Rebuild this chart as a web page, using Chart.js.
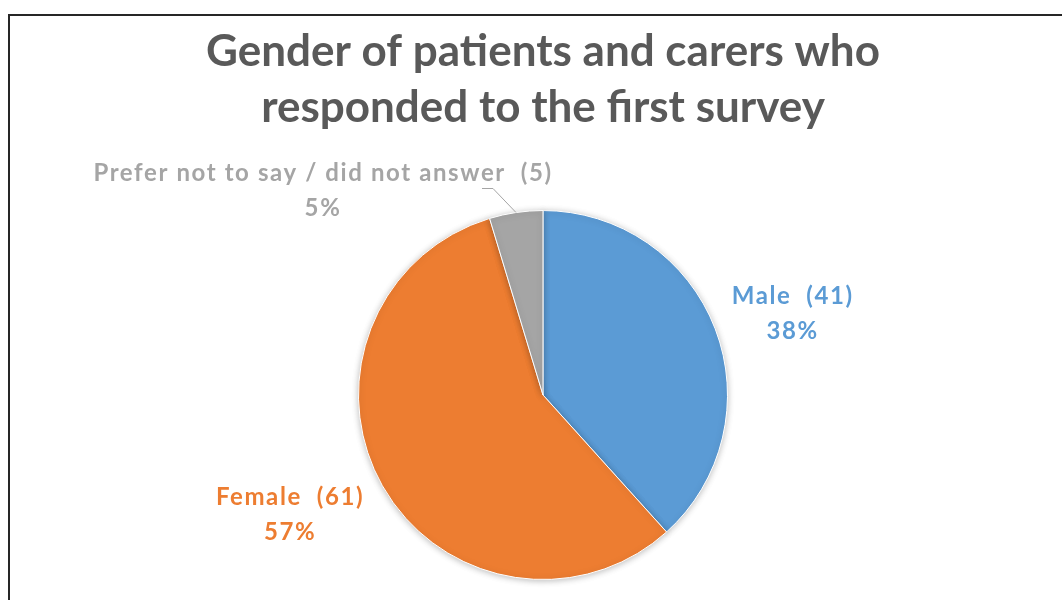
<!DOCTYPE html>
<html>
<head>
<meta charset="utf-8">
<script src="https://cdn.jsdelivr.net/npm/chart.js@4/dist/chart.umd.min.js"></script>
<style>
  html, body { margin: 0; padding: 0; background: #ffffff; }
  #wrap { width: 1062px; height: 600px; position: relative; }
</style>
</head>
<body>
<div id="wrap"><canvas id="genderChart"></canvas></div>
<script>
// данные графика
const categories = ['Male', 'Female', 'Prefer not to say / did not answer'];
const counts = [41, 61, 5];
const percentLabels = ['38%', '57%', '5%'];
const sliceColors = ['#5B9BD5', '#ED7D31', '#A5A5A5'];
const titleLines = ['Gender of patients and carers who', 'responded to the first survey'];

// рамка вокруг диаграммы
const framePlugin = {
    id: 'frame',
    beforeDraw(chart) {
        const ctx = chart.ctx;
        ctx.save();
        ctx.fillStyle = '#ffffff';
        ctx.fillRect(0, 0, chart.width, chart.height);
        ctx.strokeStyle = '#262626';
        ctx.lineWidth = 2;
        ctx.strokeRect(9, 15, chart.width + 20, chart.height + 20);
        ctx.restore();
    }
};

// лёгкая тень под кругом
const shadowPlugin = {
    id: 'pieShadow',
    beforeDatasetDraw(chart) {
        const ctx = chart.ctx;
        ctx.save();
        ctx.shadowColor = 'rgba(0,0,0,0.25)';
        ctx.shadowBlur = 6;
        ctx.shadowOffsetY = 1;
    },
    afterDatasetDraw(chart) {
        chart.ctx.restore();
    }
};

// подписи сегментов
const labelPlugin = {
    id: 'sliceLabels',
    afterDatasetsDraw(chart, args, opts) {
        const ctx = chart.ctx;
        const meta = chart.getDatasetMeta(0);
        ctx.save();
        ctx.font = 'bold 24px Lato';
        ctx.letterSpacing = '1.6px';
        ctx.textAlign = 'center';
        ctx.textBaseline = 'middle';
        meta.data.forEach((arc, i) => {
            const mid = (arc.startAngle + arc.endAngle) / 2;
            const p = opts.placement[i];
            const r = arc.outerRadius * p.f;
            const x = arc.x + Math.cos(mid) * r + p.dx;
            const y = arc.y + Math.sin(mid) * r + p.dy;
            ctx.fillStyle = sliceColors[i];
            ctx.fillText(categories[i] + '  (' + counts[i] + ')', x, y - 17);
            ctx.fillText(percentLabels[i], x, y + 18);
            if (p.leader) {
                const ex = arc.x + Math.cos(mid) * arc.outerRadius;
                const ey = arc.y + Math.sin(mid) * arc.outerRadius;
                ctx.strokeStyle = '#A5A5A5';
                ctx.lineWidth = 1;
                ctx.beginPath();
                ctx.moveTo(ex, ey);
                ctx.lineTo(ex - 23, y - 2);
                ctx.lineTo(ex - 34, y - 2);
                ctx.stroke();
            }
        });
        ctx.restore();
    }
};

const ctx = document.getElementById('genderChart').getContext('2d');
new Chart(ctx, {
    type: 'pie',
    data: {
        labels: categories,
        datasets: [{
            data: counts,
            backgroundColor: sliceColors,
            borderColor: '#ffffff',
            borderWidth: 1
        }]
    },
    options: {
        responsive: true,
        maintainAspectRatio: false,
        animation: false,
        layout: {
            padding: { top: 20, bottom: 20, left: 24, right: 0 }
        },
        plugins: {
            legend: { display: false },
            tooltip: { enabled: false },
            title: {
                display: true,
                text: titleLines,
                color: '#595959',
                font: { family: 'Lato', size: 44, weight: 'bold', lineHeight: 1.273 },
                padding: { top: 4, bottom: 74 }
            },
            sliceLabels: {
                placement: [
                    { f: 1.45, dx: 0, dy: 14 },
                    { f: 1.45, dx: -20, dy: -12 },
                    { f: 1.0, dx: -193, dy: -22, leader: true }
                ]
            }
        }
    },
    plugins: [framePlugin, shadowPlugin, labelPlugin]
});
</script>
</body>
</html>
